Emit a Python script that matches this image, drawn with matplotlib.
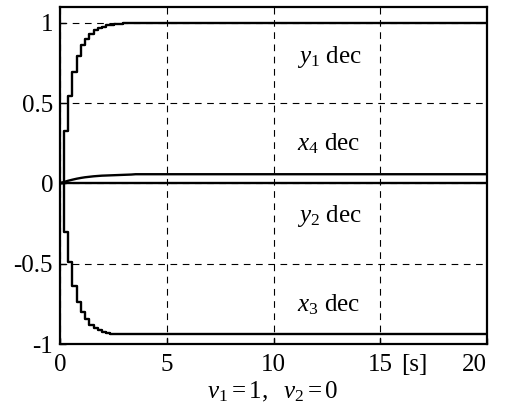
import matplotlib
matplotlib.use("Agg")
import matplotlib.pyplot as plt

plt.rcParams['font.family'] = ['Liberation Serif', 'DejaVu Serif']
plt.rcParams['mathtext.fontset'] = 'custom'
plt.rcParams['mathtext.rm'] = 'Liberation Serif'
plt.rcParams['mathtext.it'] = 'Liberation Serif:italic'
plt.rcParams['mathtext.bf'] = 'Liberation Serif:bold'

# sample instants [s]
t = [0.0, 0.17, 0.37, 0.58, 0.78, 0.98, 1.17, 1.37, 1.57, 1.76, 1.96,
     2.16, 2.35, 2.55, 2.75, 2.94, 3.14, 3.34, 3.54, 20.0]
# responses (discrete)
y1 = [0.0, 0.324, 0.547, 0.695, 0.793, 0.861, 0.900, 0.933, 0.952, 0.966,
      0.976, 0.983, 0.988, 0.992, 0.995, 0.997, 0.998, 0.999, 1.0, 1.0]
x3 = [0.0, -0.300, -0.490, -0.640, -0.740, -0.800, -0.844, -0.879, -0.900,
      -0.915, -0.925, -0.930, -0.935, -0.938, -0.940, -0.940, -0.940, -0.940,
      -0.940, -0.940]
x4 = [0.0, 0.008, 0.016, 0.023, 0.029, 0.034, 0.038, 0.041, 0.044, 0.046,
      0.048, 0.049, 0.050, 0.051, 0.052, 0.053, 0.054, 0.055, 0.057, 0.057]
t_y2 = [0.0, 20.0]
y2 = [0.0, 0.0]

xticks = [0, 5, 10, 15, 20]
xticklabels = ['0', '5', '10', '15', '20']
yticks = [-1, -0.5, 0, 0.5, 1]
yticklabels = ['-1', '-0.5', '0', '0.5', '1']
unit_label = '[s]'

labels = [r'$y_1$ dec', r'$x_4$ dec', r'$y_2$ dec', r'$x_3$ dec']
label_y = [0.751, 0.204, -0.24, -0.80]

FS = 18
fig = plt.figure(figsize=(5.08, 4.15), dpi=100)
W, H = 508, 415
ax = fig.add_axes([60 / W, 71 / H, 427 / W, (344 - 6.7) / H])

ax.plot(t, y1, drawstyle='steps-post', color='k', lw=1.7)
ax.plot(t, x3, drawstyle='steps-post', color='k', lw=1.7)
ax.plot(t, x4, color='k', lw=1.7)
ax.plot(t_y2, y2, color='k', lw=1.7)

ax.set_xlim(0, 20)
ax.set_ylim(-1, 1.1)
ax.set_xticks(xticks)
ax.set_xticklabels(xticklabels)
ax.set_yticks(yticks)
ax.set_yticklabels(yticklabels)
ax.get_xticklabels()[-1].set_horizontalalignment('right')

ax.grid(True, linestyle=(0, (6, 5)), color='k', lw=0.8)
ax.tick_params(direction='in', length=4, width=1, labelsize=FS, colors='k')
ax.tick_params(axis='x', pad=7)
ax.tick_params(axis='y', pad=5)
for s in ax.spines.values():
    s.set_linewidth(1.6)

# unit label placed next to the last x tick label
ax.annotate(unit_label, xy=(16.0, 0), xycoords=('data', 'axes fraction'),
            xytext=(0, -7), textcoords='offset points',
            fontsize=FS, ha='left', va='top')

for lab, yy in zip(labels, label_y):
    ax.text(11.1, yy, lab, fontsize=FS, ha='left', va='baseline')

fig.text(273 / W, (415 - 392) / H, r'$v_1 = 1,\ \ v_2 = 0$', fontsize=FS,
         ha='center', va='center')

fig.savefig('out.png', dpi=100)
